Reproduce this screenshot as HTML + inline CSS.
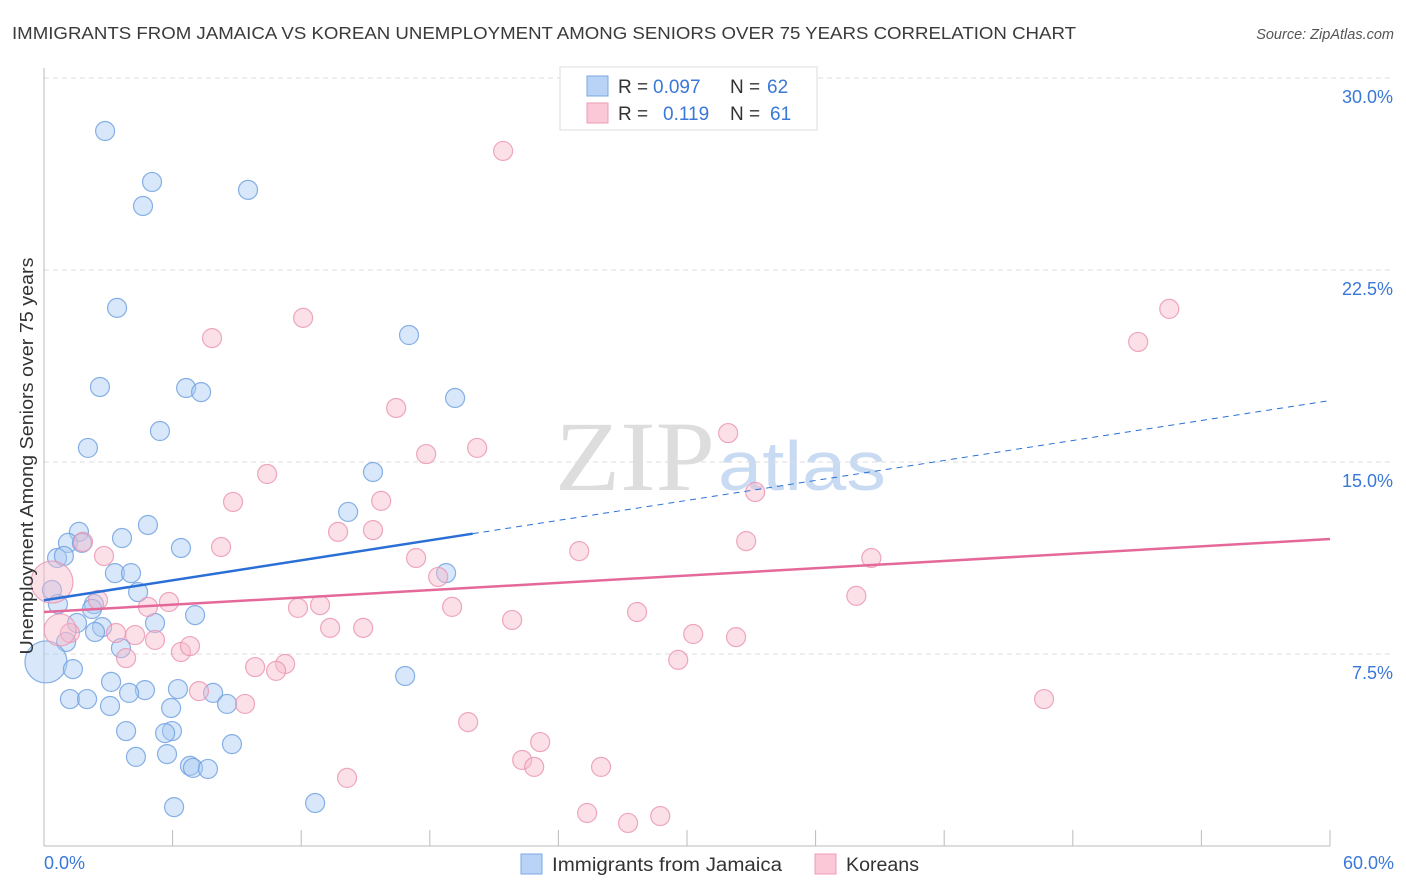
<!DOCTYPE html>
<html><head><meta charset="utf-8"><style>
body{margin:0;background:#fff;font-family:"Liberation Sans",sans-serif;}
svg{display:block}
</style></head><body>
<svg id="chart" width="1406" height="892" font-family="Liberation Sans, sans-serif">
<text x="12" y="39" font-size="17.5" fill="#3a3a3a" textLength="1064" lengthAdjust="spacingAndGlyphs">IMMIGRANTS FROM JAMAICA VS KOREAN UNEMPLOYMENT AMONG SENIORS OVER 75 YEARS CORRELATION CHART</text>
<text x="1394" y="39" font-size="14.5" fill="#555" font-style="italic" text-anchor="end">Source: ZipAtlas.com</text>
<text x="555" y="490" font-size="100" fill="#ddd" font-family="Liberation Serif, serif" textLength="160" lengthAdjust="spacingAndGlyphs">ZIP</text>
<text x="718" y="490" font-size="70" fill="#c9dbf3" textLength="168" lengthAdjust="spacingAndGlyphs">atlas</text>
<g id="grid"></g>
<g id="axes"></g>
<g id="pts"></g>
<g id="lines"></g>
<text transform="translate(33,456) rotate(-90)" font-size="18" fill="#333" text-anchor="middle" textLength="397" lengthAdjust="spacingAndGlyphs">Unemployment Among Seniors over 75 years</text>
<g>
<rect x="560" y="67" width="257" height="63" fill="#fff" stroke="#ddd"/>
<rect x="587" y="76" width="21" height="20" fill="#b8d3f5" stroke="#7aa8e6"/>
<rect x="587" y="103" width="21" height="20" fill="#fac8d6" stroke="#ee9cb6"/>
<text x="618" y="93" font-size="19" fill="#333">R = <tspan x="653" fill="#3a78d8">0.097</tspan><tspan x="730">N = </tspan><tspan x="767" fill="#3a78d8">62</tspan></text>
<text x="618" y="120" font-size="19" fill="#333">R = <tspan x="663" fill="#3a78d8">0.119</tspan><tspan x="730">N = </tspan><tspan x="770" fill="#3a78d8">61</tspan></text>
</g>
<g>
<rect x="521" y="854" width="21" height="20" fill="#b8d3f5" stroke="#7aa8e6"/>
<text x="552" y="871" font-size="19" fill="#333" textLength="230" lengthAdjust="spacingAndGlyphs">Immigrants from Jamaica</text>
<rect x="815" y="854" width="21" height="20" fill="#fac8d6" stroke="#ee9cb6"/>
<text x="846" y="871" font-size="19" fill="#333" textLength="73" lengthAdjust="spacingAndGlyphs">Koreans</text>
</g>
</svg>
<script>
const xTicks=[0,6,12,18,24,30,36,42,48,54,60];
const yTicks=[7.5,15,22.5,30];
const yTickLabels=["7.5%","15.0%","22.5%","30.0%"];
const blueX=[2.85,5.04,4.62,9.52,3.41,17.03,2.61,6.63,7.33,19.18,5.41,2.05,15.35,14.19,4.85,1.63,3.64,1.12,1.77,0.61,0.93,6.39,3.31,4.06,18.76,4.39,0.37,0.65,2.33,2.24,7.05,5.18,1.54,2.71,2.38,1.03,3.59,0.09,1.35,16.85,3.13,4.71,6.25,3.97,1.21,2.01,7.89,3.08,5.93,8.54,5.97,3.83,5.65,8.77,5.74,4.29,6.81,6.95,7.65,12.65,6.07];
const blueY=[27.93,25.94,25.0,25.63,21.02,19.96,17.93,17.89,17.73,17.5,16.21,15.55,14.61,13.05,12.54,12.27,12.03,11.84,11.84,11.25,11.33,11.64,10.66,10.66,10.66,9.92,10.0,9.45,9.45,9.26,9.02,8.71,8.71,8.55,8.36,7.97,7.73,7.19,6.91,6.64,6.41,6.09,6.13,5.98,5.74,5.74,5.98,5.47,5.39,5.55,4.49,4.49,4.41,3.98,3.59,3.48,3.13,3.05,3.01,1.68,1.52];
const blueBig=[37];
const pinkX=[21.42,52.5,51.05,12.09,7.84,16.43,17.83,20.21,31.92,10.41,8.82,15.73,33.18,13.72,15.35,1.82,8.26,2.8,24.97,32.76,17.36,38.6,18.39,2.52,5.83,11.85,12.88,4.85,37.9,19.04,27.67,21.84,13.35,14.89,30.29,32.29,4.25,3.36,5.18,1.21,0.75,0.37,6.39,6.81,3.83,29.59,9.85,11.25,10.83,7.23,9.38,46.66,19.79,23.15,22.31,22.87,25.99,14.14,25.34,28.75,27.25];
const pinkY=[27.15,20.98,19.69,20.63,19.84,17.11,15.31,15.55,16.13,14.53,13.44,13.48,13.83,12.27,12.34,11.88,11.68,11.33,11.52,11.91,11.25,11.25,10.51,9.61,9.53,9.3,9.41,9.34,9.77,9.34,9.14,8.83,8.52,8.52,8.28,8.16,8.24,8.32,8.05,8.32,8.44,10.31,7.58,7.81,7.34,7.27,6.99,7.11,6.84,6.05,5.55,5.74,4.84,4.06,3.36,3.09,3.09,2.66,1.29,1.17,0.9];
const pinkBig=[40,41];
const blueTrend=[9.6,0.13,20];
const pinkTrend=[9.14,0.0475];
const NS="http://www.w3.org/2000/svg";
const sx=v=>44+v/60*1286, sy=v=>846-v/30*768;
function mk(t,a,p){const e=document.createElementNS(NS,t);for(const k in a)e.setAttribute(k,a[k]);p.appendChild(e);return e;}
const grid=document.getElementById('grid'),axes=document.getElementById('axes'),pts=document.getElementById('pts'),lines=document.getElementById('lines');
yTicks.forEach((t,i)=>{
 const g=mk('line',{x1:44,x2:1394,y1:sy(t),y2:sy(t),stroke:'#ddd','stroke-dasharray':'5,4'},grid);
 
 
 const l=mk('text',{x:1393,y:sy(t)+25,'font-size':18,fill:'#3a78d8','text-anchor':'end'},axes);
 l.textContent=yTickLabels[i];
 
 
});
const ax=mk('line',{x1:44,x2:1330,y1:846,y2:846,stroke:'#bbb'},axes);


const ay=mk('line',{x1:44,x2:44,y1:68,y2:846,stroke:'#bbb'},axes);


xTicks.forEach(t=>{
 const k=mk('line',{x1:sx(t),x2:sx(t),y1:830,y2:846,stroke:'#bbb'},axes);
 
 
});
[[0,'0.0%','start',44],[60,'60.0%','end',1394]].forEach(a=>{
 const l=mk('text',{x:a[3],y:869,'font-size':18,fill:'#3a78d8','text-anchor':a[2]},axes);
 l.textContent=a[1];
 
 
});
function dots(X,Y,big,fill,stroke,name){
 X.forEach((x,i)=>{
  const r=big.includes(i)?(i===40?16:21):9.5;
  const c=mk('circle',{cx:sx(x),cy:sy(Y[i]),r:r,fill:fill,'fill-opacity':0.45,stroke:stroke,'stroke-opacity':0.8,'stroke-width':1.2},pts);
  
  
 });
}
dots(blueX,blueY,blueBig,'#a9c9f2','#6b9de0','jamaica-point');
dots(pinkX,pinkY,pinkBig,'#f7bbcd','#ea92b0','korean-point');
const b1=mk('line',{x1:sx(0),y1:sy(blueTrend[0]),x2:sx(blueTrend[2]),y2:sy(blueTrend[0]+blueTrend[1]*blueTrend[2]),stroke:'#2a6fd6','stroke-width':2.5},lines);


const b2=mk('line',{x1:sx(blueTrend[2]),y1:sy(blueTrend[0]+blueTrend[1]*blueTrend[2]),x2:sx(60),y2:sy(blueTrend[0]+blueTrend[1]*60),stroke:'#2a6fd6','stroke-width':1,'stroke-dasharray':'6,5'},lines);


const p1=mk('line',{x1:sx(0),y1:sy(pinkTrend[0]),x2:sx(60),y2:sy(pinkTrend[0]+pinkTrend[1]*60),stroke:'#e5689a','stroke-width':2.5},lines);


</script>
</body></html>
